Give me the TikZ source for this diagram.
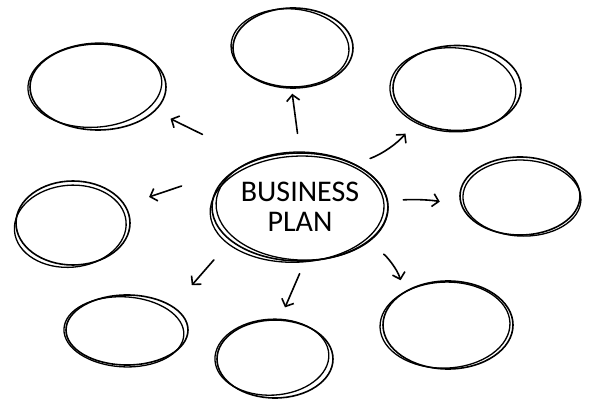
\documentclass[tikz,border=0pt]{standalone}
\usepackage{fontspec}
\setmainfont{Carlito}
\usetikzlibrary{shapes.geometric,arrows.meta}

\tikzset{
  blob/.style={ellipse, draw, line width=1.6pt, inner sep=0pt},
  sketch/.style={line width=1.3pt},
  arr/.style={-{Straight Barb[length=6pt,width=13pt]}, line width=1.6pt, line cap=round},
}

\begin{document}
\begin{tikzpicture}[x=1pt,y=-1pt]
\useasboundingbox (0,0) rectangle (592,403);

\node[blob, minimum width=176pt, minimum height=108pt, align=center,
  font=\fontsize{30}{29.5}\selectfont] (plan) at (300,207) {BUSINESS\\PLAN};

\node[blob, minimum width=120pt, minimum height=80pt] (top) at (293,48) {};
\node[blob, minimum width=136pt, minimum height=86pt] (tl) at (98,87) {};
\node[blob, minimum width=128pt, minimum height=85pt] (tr) at (457,88) {};
\node[blob, minimum width=114pt, minimum height=84pt] (left) at (73,223) {};
\node[blob, minimum width=120pt, minimum height=78pt] (right) at (520,196) {};
\node[blob, minimum width=122pt, minimum height=70pt] (bl) at (127,330) {};
\node[blob, minimum width=116pt, minimum height=78pt] (bot) at (275,359) {};
\node[blob, minimum width=130pt, minimum height=88pt] (br) at (448,325) {};

\foreach \n/\rx/\ry/\a/\dx/\dy in {plan/87/53/3/-3/2, plan/86/54/-2/2/-1,
  top/59/39/-3/-3/0, tl/67/42/4/-3/-2, tr/63/42/-3/-4/2, left/56/41/5/-3/3,
  right/59/38/-2/2/2, bl/60/35/-3/-3/2, bot/57/38/3/-3/-2, br/65/43/2/-3/0}
  \draw[sketch, shift={(\n)}, rotate=\a] (\dx,\dy) ellipse [x radius=\rx, y radius=\ry];

\draw[arr, shorten <=19pt, shorten >=5pt] (plan.90) -- (top.268);
\draw[arr, shorten <=58pt, shorten >=17pt] (plan.134) -- (tl.-23);
\draw[arr, shorten <=16pt, shorten >=16pt] (plan.38) to[bend right=15] (tr.219);
\draw[arr, shorten <=63pt, shorten >=25pt] (plan.145) -- (left.19);
\draw[arr, shorten <=15pt, shorten >=22pt] (plan.4) to[bend left=8] (right.190);
\draw[arr, shorten <=25pt, shorten >=28pt] (plan.206) -- (bl.27);
\draw[arr, shorten <=13pt, shorten >=13pt] (plan.275) -- (bot.83);
\draw[arr, shorten <=22pt, shorten >=12pt] (plan.329) to[bend left=25] (br.143);
\end{tikzpicture}
\end{document}
